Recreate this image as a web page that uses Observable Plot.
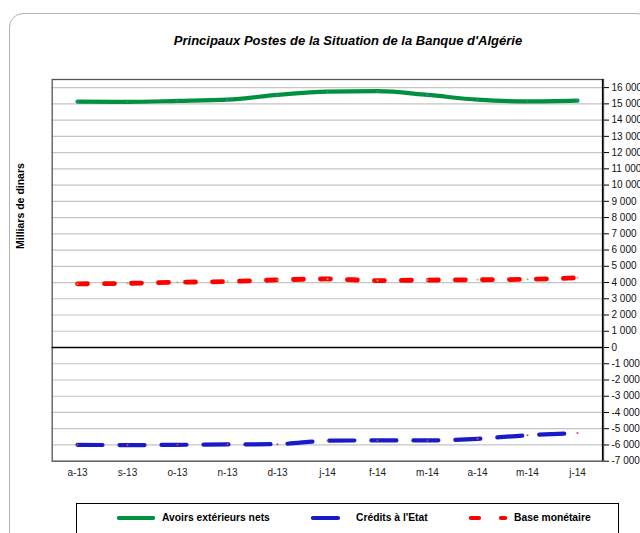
<!DOCTYPE html>
<html>
<head>
<meta charset="utf-8">
<script src="https://cdn.jsdelivr.net/npm/d3@7"></script>
<script src="https://cdn.jsdelivr.net/npm/@observablehq/plot@0.6"></script>
<style>
  html, body { margin: 0; padding: 0; background: #fff; }
  #wrap { position: relative; width: 640px; height: 533px; overflow: hidden; font-family: "Liberation Sans", Arial, sans-serif; }
  #outer { position: absolute; left: 9px; top: 13px; width: 640px; height: 600px; border: 1px solid #b4b4b4; border-radius: 14px; }
  #title { position: absolute; left: 0; width: 696px; top: 33px; text-align: center; font-size: 13px; font-weight: bold; font-style: italic; color: #000; }
  #ylabel { position: absolute; left: 20px; top: 206px; transform: translate(-50%, -50%) rotate(-90deg); font-size: 10.5px; font-weight: bold; white-space: nowrap; color: #000; }
  #chart { position: absolute; left: 0; top: 0; }
  #legend { position: absolute; left: 76px; top: 503px; width: 541px; height: 40px; border: 1px solid #000; background: #fff; }
  .item { position: absolute; top: 8px; font-size: 10.3px; font-weight: bold; white-space: nowrap; color: #000; }
  .item svg { vertical-align: middle; margin-right: 7px; }
</style>
</head>
<body>
<div id="wrap">
  <div id="outer"></div>
  <div id="title">Principaux Postes de la Situation de la Banque d'Algérie</div>
  <div id="chart"></div>
  <div id="ylabel">Milliars de dinars</div>
  <div id="legend"></div>
</div>
<script>
const months = ["a-13", "s-13", "o-13", "n-13", "d-13", "j-14", "f-14", "m-14", "a-14", "m-14 ", "j-14 "];
const monthLabels = ["a-13", "s-13", "o-13", "n-13", "d-13", "j-14", "f-14", "m-14", "a-14", "m-14", "j-14"];
const avoirsExterieurs = [15140, 15120, 15180, 15260, 15550, 15750, 15780, 15550, 15260, 15150, 15200];
const creditsEtat = [-5990, -6010, -5990, -5970, -5950, -5740, -5720, -5720, -5620, -5400, -5270];
const baseMonetaire = [3920, 3950, 4020, 4060, 4160, 4220, 4120, 4150, 4170, 4200, 4290];
const seriesNames = ["Avoirs extérieurs nets", "Crédits à l'Etat", "Base monétaire"];
const yTicks = d3.range(-7000, 16001, 1000);

const colors = { green: "#00913f", blue: "#1a1ac8", red: "#ff0000" };

const rows = (vals) => months.map((m, i) => ({ m, v: vals[i] }));
const green = rows(avoirsExterieurs);
const blue = rows(creditsEtat);
const red = rows(baseMonetaire);

const fmt = d => {
  const s = d3.format(",")(Math.abs(d)).replace(/,/g, " ");
  return (d < 0 ? "-" : "") + s;
};

const chart = Plot.plot({
  width: 640,
  height: 490,
  marginTop: 79,
  marginBottom: 29.3,
  marginLeft: 51.7,
  marginRight: 37,
  style: { fontFamily: "'Liberation Sans', Arial, sans-serif", background: "transparent", overflow: "visible" },
  x: { type: "point", domain: months, padding: 0.5 },
  y: { domain: [-7000, 16500] },
  marks: [
    Plot.gridY(yTicks, { stroke: "#c4c4c4", strokeOpacity: 1, strokeWidth: 1.2 }),
    Plot.frame({ stroke: "#555", strokeWidth: 1.3 }),
    Plot.ruleY([0], { stroke: "#000", strokeWidth: 1.3 }),
    Plot.axisY(yTicks, { anchor: "right", tickSize: 5, tickPadding: 3, tickFormat: fmt, fontSize: 10, label: null, stroke: "#000", color: "#111" }),
    Plot.ruleX([months[months.length - 1]], { dx: 25, stroke: "#000", strokeWidth: 1.2 }),
    Plot.axisX({ tickSize: 0, tickPadding: 8, fontSize: 10, label: null, tickFormat: (d, i) => monthLabels[i], color: "#222" }),
    Plot.line(green, { x: "m", y: "v", stroke: colors.green, strokeWidth: 4.2, curve: "monotone-x" }),
    Plot.dot(green, { x: "m", y: "v", r: 1, fill: "#4a7ebb" }),
    Plot.line(blue, { x: "m", y: "v", stroke: colors.blue, strokeWidth: 4.2, strokeDasharray: "25,17", strokeLinecap: "round", curve: "monotone-x" }),
    Plot.dot(blue, { x: "m", y: "v", r: 1, fill: "#c0504d" }),
    Plot.line(red, { x: "m", y: "v", stroke: colors.red, strokeWidth: 4.8, strokeDasharray: "10,17", strokeLinecap: "round", curve: "monotone-x" }),
    Plot.dot(red, { x: "m", y: "v", r: 1, fill: "#9bbb59" })
  ]
});
document.getElementById("chart").appendChild(chart);

// Legend
const legend = document.getElementById("legend");
const legendItems = [
  { name: seriesNames[0], color: colors.green, dash: null, left: 40 },
  { name: seriesNames[1], color: colors.blue, dash: "25,17", left: 234 },
  { name: seriesNames[2], color: colors.red, dash: "8,22", left: 392 }
];
legendItems.forEach(it => {
  const div = document.createElement("div");
  div.className = "item";
  div.style.left = it.left + "px";
  const ns = "http://www.w3.org/2000/svg";
  const svg = document.createElementNS(ns, "svg");
  svg.setAttribute("width", 38);
  svg.setAttribute("height", 10);
  const line = document.createElementNS(ns, "line");
  line.setAttribute("x1", 2); line.setAttribute("x2", 36);
  line.setAttribute("y1", 5); line.setAttribute("y2", 5);
  line.setAttribute("stroke", it.color);
  line.setAttribute("stroke-width", 4.2);
  line.setAttribute("stroke-linecap", "round");
  if (it.dash) line.setAttribute("stroke-dasharray", it.dash);
  svg.appendChild(line);
  div.appendChild(svg);
  div.appendChild(document.createTextNode(it.name));
  legend.appendChild(div);
});
</script>
</body>
</html>
